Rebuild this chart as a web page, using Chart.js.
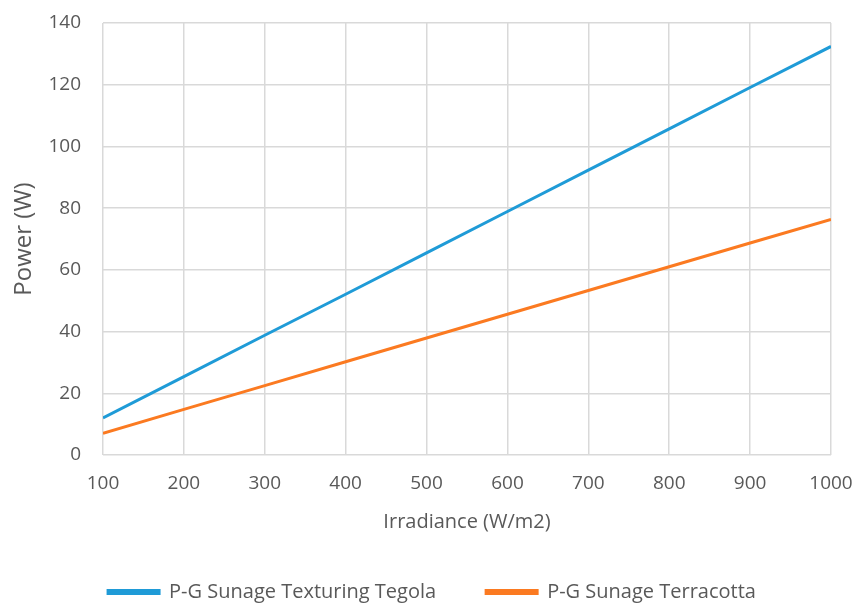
<!DOCTYPE html>
<html>
<head>
<meta charset="utf-8">
<script src="https://cdn.jsdelivr.net/npm/chart.js@4"></script>
<style>
html,body{margin:0;padding:0;background:#fff;}
#wrap{width:857px;height:604px;}
</style>
</head>
<body>
<div id="wrap"><canvas id="c" width="857" height="604"></canvas></div>
<script>
const irradiance = [100, 200, 300, 400, 500, 600, 700, 800, 900, 1000];
const tegola = [12.0, 25.4, 38.8, 52.1, 65.5, 78.9, 92.3, 105.7, 119.1, 132.4];
const terracotta = [7.0, 14.8, 22.5, 30.2, 37.9, 45.6, 53.3, 61.0, 68.7, 76.3];
const seriesNames = ["P-G Sunage Texturing Tegola", "P-G Sunage Terracotta"];
const xTitle = "Irradiance (W/m2)";
const yTitle = "Power (W)";

const font = "'Open Sans', sans-serif";
const toPts = (ys) => irradiance.map((x, i) => ({x: x, y: ys[i]}));

new Chart(document.getElementById('c'), {
  type: 'scatter',
  data: {
    datasets: [
      {label: seriesNames[0], data: toPts(tegola), showLine: true, borderColor: '#1f9bd7', backgroundColor: '#1f9bd7', borderWidth: 3, pointRadius: 0, tension: 0},
      {label: seriesNames[1], data: toPts(terracotta), showLine: true, borderColor: '#fb7a21', backgroundColor: '#fb7a21', borderWidth: 3, pointRadius: 0, tension: 0}
    ]
  },
  options: {
    responsive: false,
    animation: false,
    layout: {padding: {left: 33, right: 26, top: 23, bottom: -8}},
    plugins: {
      tooltip: {enabled: false},
      legend: {
        position: 'bottom',
        labels: {boxWidth: 51, boxHeight: 3, padding: 50, color: '#595959', font: {family: font, size: 20}}
      }
    },
    scales: {
      x: {
        type: 'linear', min: 100, max: 1000,
        ticks: {stepSize: 100, color: '#595959', font: {family: font, size: 19}, padding: 17,
          callback: (v) => String(v)},
        grid: {color: '#d9d9d9', lineWidth: 1.5, drawTicks: false},
        border: {display: false},
        title: {display: true, text: xTitle, color: '#595959', font: {family: font, size: 20}, padding: {top: 0, bottom: -2}},
        afterFit: (s) => { s.height = 77; s.paddingLeft = 0; s.paddingRight = 0; }
      },
      y: {
        min: 0, max: 140,
        ticks: {stepSize: 20, color: '#595959', font: {family: font, size: 19}, padding: 22},
        grid: {color: '#d9d9d9', lineWidth: 1.5, drawTicks: false},
        border: {display: false},
        title: {display: true, text: yTitle, color: '#595959', font: {family: font, size: 24}, padding: {top: -23, bottom: 0}},
        afterFit: (s) => { s.width = 70; s.paddingTop = 0; s.paddingBottom = 0; }
      }
    }
  }
});
</script>
</body>
</html>
